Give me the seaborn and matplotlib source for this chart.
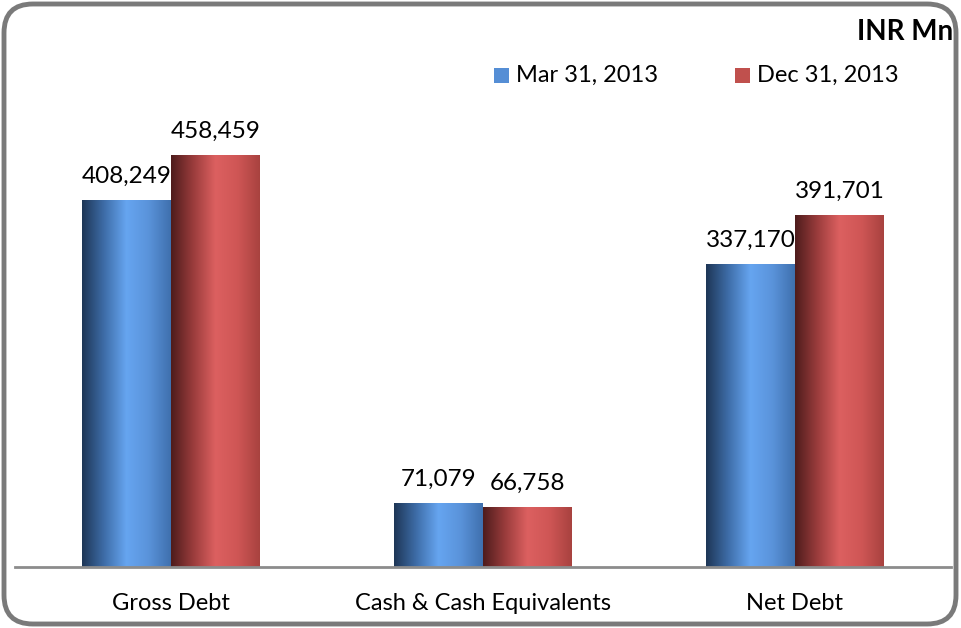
import numpy as np
import pandas as pd
import matplotlib
matplotlib.use("Agg")
import matplotlib.pyplot as plt
import seaborn as sns
from matplotlib.colors import LinearSegmentedColormap
from matplotlib.patches import FancyBboxPatch, Rectangle

categories = ["Gross Debt", "Cash & Cash Equivalents", "Net Debt"]
series = ["Mar 31, 2013", "Dec 31, 2013"]
mar_values = [408249, 71079, 337170]
dec_values = [458459, 66758, 391701]
unit_label = "INR Mn"

sns.set_theme(style="white")
plt.rcParams['font.family'] = ['Lato', 'DejaVu Sans']

df = pd.DataFrame({
    "category": categories * 2,
    "series": [series[0]] * 3 + [series[1]] * 3,
    "value": mar_values + dec_values,
})

legend_colors = {series[0]: "#558ED5", series[1]: "#C0504D"}
cmaps = {
    series[0]: LinearSegmentedColormap.from_list("b", ["#1E3656", "#3E6DA8", "#66A5F0", "#5A93DA", "#3F70AE"]),
    series[1]: LinearSegmentedColormap.from_list("r", ["#4E1C1C", "#9A3C3C", "#DC6060", "#CF5655", "#A8423F"]),
}

fig = plt.figure(figsize=(9.62, 6.28), dpi=100)
ax = fig.add_axes([15/962, 61/628, (951-15)/962, (510.3-61)/628])

sns.barplot(data=df, x="category", y="value", hue="series", order=categories,
            hue_order=series, palette=legend_colors, width=0.57, ax=ax,
            legend=False, saturation=1)

ax.set_xlim(-0.5, 2.5)
ax.set_ylim(0, 500000)

grad = np.linspace(0, 1, 256).reshape(1, -1)
for container, s in zip(ax.containers, series):
    for patch in container.patches:
        x0, y0 = patch.get_x(), patch.get_y()
        w, h = patch.get_width(), patch.get_height()
        patch.set_alpha(0)
        ax.imshow(grad, cmap=cmaps[s], aspect="auto",
                  extent=[x0, x0 + w, y0, y0 + h], zorder=2, interpolation="bicubic")
        ax.text(x0 + w / 2, y0 + h + 14500, f"{int(h):,}", ha="center", va="bottom",
                fontsize=17.5, color="#000000", zorder=3)

ax.set_xlim(-0.5, 2.5)
ax.set_ylim(0, 500000)
ax.set_xlabel("")
ax.set_ylabel("")
ax.set_yticks([])
ax.tick_params(axis="x", length=0, labelsize=17, pad=19, colors="#000000")
for sp in ["top", "right", "left"]:
    ax.spines[sp].set_visible(False)
ax.spines["bottom"].set_color("#8C8C8C")
ax.spines["bottom"].set_linewidth(2)
ax.patch.set_alpha(0)

# legend
for (xs, s) in [(494, series[0]), (735, series[1])]:
    fig.patches.append(Rectangle((xs/962, (628-83)/628), 15/962, 15/628,
                                 transform=fig.transFigure, facecolor=legend_colors[s],
                                 edgecolor="none"))
    fig.text((xs + 22)/962, (628-75)/628, s, ha="left", va="center", fontsize=17, color="#000000")

fig.text(953/962, (628-32)/628, unit_label, ha="right", va="center", fontsize=20,
         fontweight="bold", color="#000000")

frame = FancyBboxPatch((4/962, 4/628), 952/962, 620/628,
                       boxstyle="round,pad=0,rounding_size=0.03",
                       transform=fig.transFigure, facecolor="none",
                       edgecolor="#7A7A7A", linewidth=3.5, mutation_aspect=962/628)
fig.patches.append(frame)

fig.savefig("out.png", dpi=100)
